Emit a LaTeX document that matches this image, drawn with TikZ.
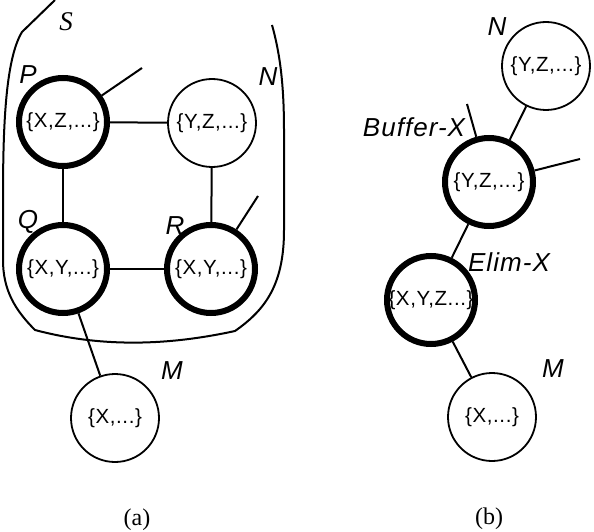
\documentclass[tikz,border=0pt]{standalone}
\usepackage{fontspec}
\setmainfont{Liberation Serif}
\setsansfont{Liberation Sans}
\newfontfamily\cliquefont[LetterSpace=3]{Liberation Sans}
\newfontfamily\tagfont[LetterSpace=4]{Liberation Sans}
\begin{document}
\begin{tikzpicture}[x=1pt,y=-1pt,
    clique/.style={circle, draw, line width=1.8pt, minimum size=88pt, inner sep=0pt,
      font=\cliquefont\fontsize{20.5}{24}\selectfont},
    elim/.style={clique, line width=6pt},
    tag/.style={inner sep=0pt, font=\tagfont\itshape\fontsize{26}{30}\selectfont},
    link/.style={line width=2pt}]
    \useasboundingbox (0,0) rectangle (594,532);

    % (a) the set S round the eliminated cliques
    \draw[line width=2pt] (55,0) -- (22,32) .. controls (5,60) and (3,130) .. (3,200)
      -- (3,260) .. controls (3,290) and (15,310) .. (35,330)
      .. controls (110,350) and (180,343) .. (235,331)
      .. controls (265,310) and (284,285) .. (284,230)
      -- (284,130) .. controls (284,80) and (279,50) .. (272,25);
    \node[tag, font=\rmfamily\itshape\fontsize{27}{30}\selectfont] (lS) at (66,22) {S};

    \node[elim] (P) at (63,122) {\{X,Z,...\}};
    \node[clique] (N) at (212,123) {\{Y,Z,...\}};
    \node[elim] (Q) at (63,269) {\{X,Y,...\}};
    \node[elim] (R) at (211,269) {\{X,Y,...\}};
    \node[clique] (M) at (115,418) {\{X,...\}};
    \coordinate (Pend) at (142,68);
    \coordinate (Rend) at (258,196);

    \draw[link] (P) -- (N);
    \draw[link] (P) -- (Q);
    \draw[link] (N) -- (R);
    \draw[link] (Q) -- (R);
    \draw[link] (Q) -- (M);
    \draw[link] (P) -- (Pend);
    \draw[link] (R) -- (Rend);

    \node[tag] (lP) at (28,75) {P};
    \node[tag] (lN) at (268,77) {N};
    \node[tag] (lQ) at (28,222) {Q};
    \node[tag] (lR) at (175,226) {R};
    \node[tag] (lM) at (172,371) {M};
    \node[font=\rmfamily\fontsize{24}{28}\selectfont] (capa) at (137,520) {(a)};

    % (b) after the elimination
    \node[clique] (Nb) at (546,66) {\{Y,Z,...\}};
    \node[elim] (Buf) at (489,182) {\{Y,Z,...\}};
    \node[elim] (Elim) at (431,300) {\{X,Y,Z...\}};
    \node[clique] (Mb) at (492,417) {\{X,...\}};
    \coordinate (Bufup) at (467,104);
    \coordinate (Bufright) at (580,159);

    \draw[link] (Nb) -- (Buf);
    \draw[link] (Buf) -- (Elim);
    \draw[link] (Elim) -- (Mb);
    \draw[link] (Buf) -- (Bufup);
    \draw[link] (Buf) -- (Bufright);

    \node[tag] (lNb) at (497,27) {N};
    \node[tag] (lBuf) at (414,127) {Buffer-X};
    \node[tag] (lElim) at (509,262) {Elim-X};
    \node[tag] (lMb) at (553,369) {M};
    \node[font=\rmfamily\fontsize{24}{28}\selectfont] (capb) at (489,519) {(b)};
\end{tikzpicture}
\end{document}
